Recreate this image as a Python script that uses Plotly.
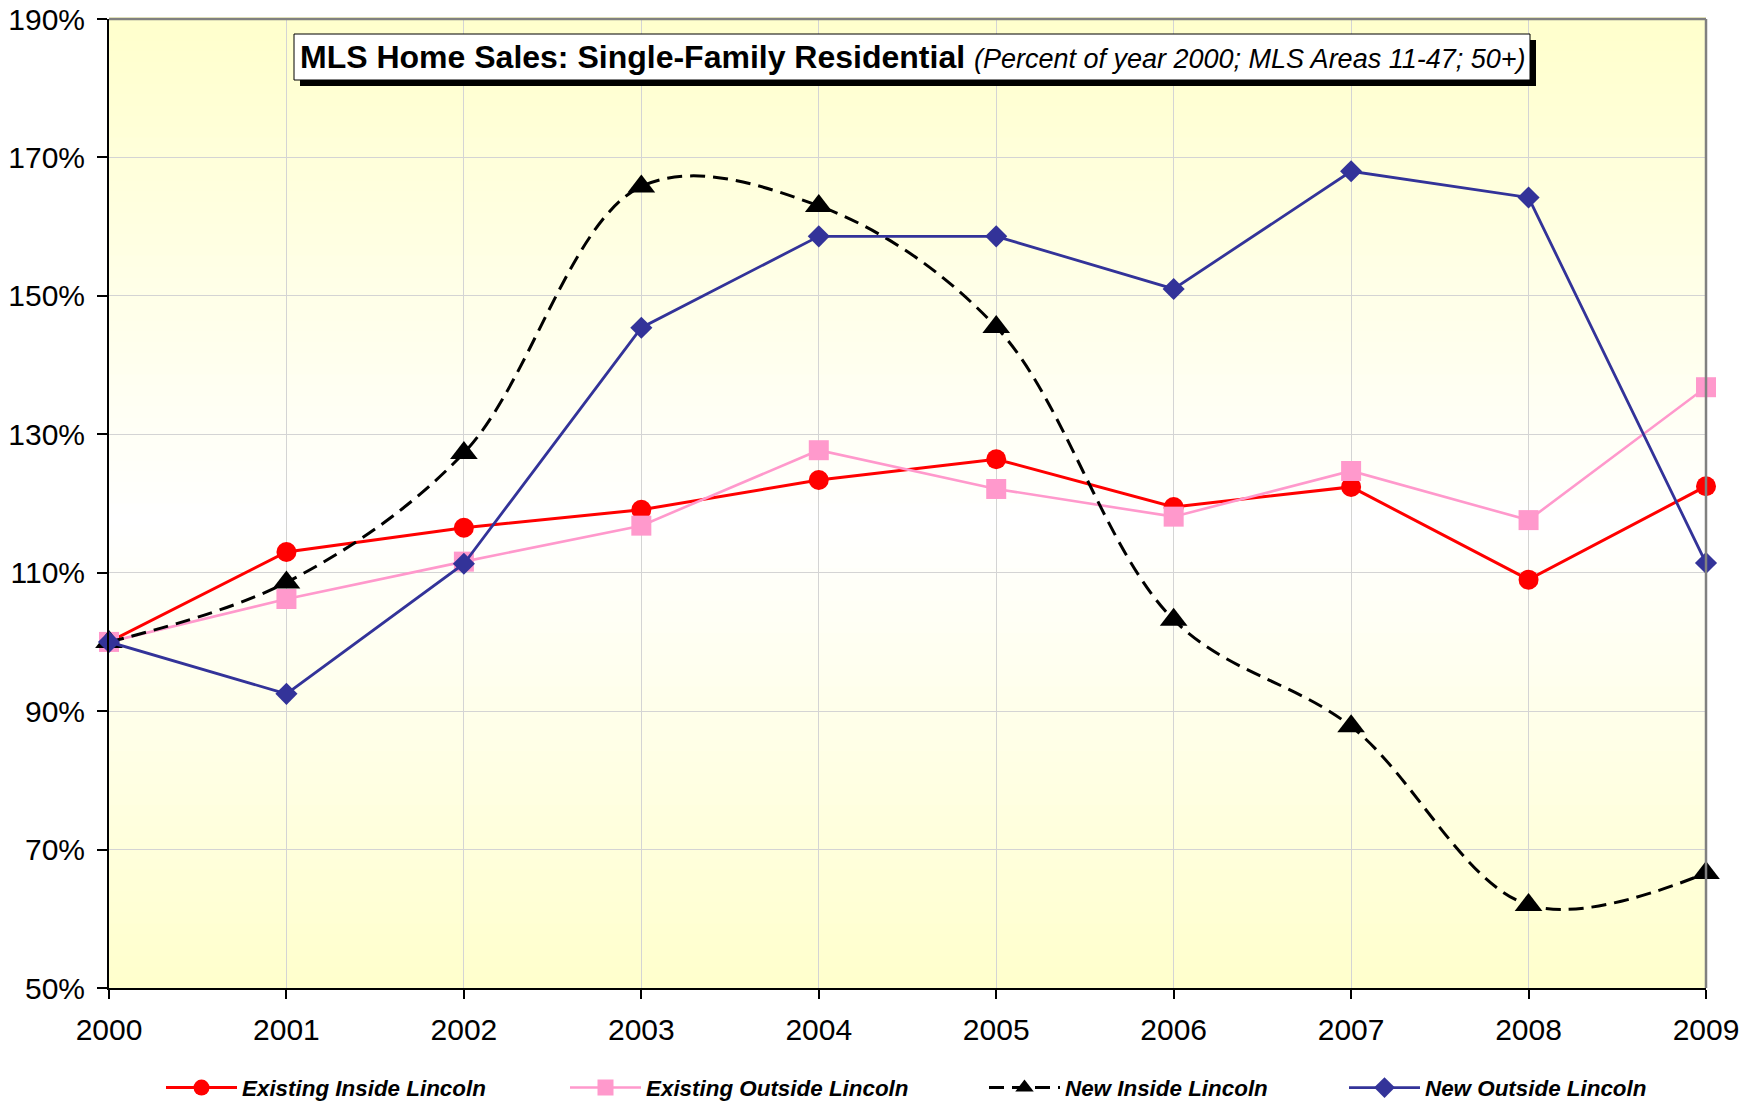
import plotly.graph_objects as go

# ---------------- data ----------------
years = [2000, 2001, 2002, 2003, 2004, 2005, 2006, 2007, 2008, 2009]
existing_inside = [100, 113.0, 116.5, 119.1, 123.4, 126.4, 119.5, 122.4, 109.0, 122.5]
existing_outside = [100, 106.2, 111.6, 116.8, 127.7, 122.1, 118.1, 124.7, 117.6, 136.8]
new_inside = [100, 108.6, 127.3, 165.8, 163.0, 145.5, 103.2, 87.8, 62.0, 66.6]
new_outside = [100, 92.5, 111.3, 145.4, 158.6, 158.6, 151.0, 168.0, 164.2, 111.4]
series_names = ["Existing Inside Lincoln", "Existing Outside Lincoln",
                "New Inside Lincoln", "New Outside Lincoln"]
y_ticks = [50, 70, 90, 110, 130, 150, 170, 190]
title_main = "MLS Home Sales: Single-Family Residential"
title_sub = "(Percent of year 2000; MLS Areas 11-47; 50+)"

# ---------------- layout geometry (pixels) ----------------
W, H = 1758, 1104
L, R, T, B = 109, 1706, 19, 988
PW, PH = R - L, B - T


def px(x):
    return (x - L) / PW


def py(y):
    return (B - y) / PH


FONT = "Arial, Liberation Sans, sans-serif"

fig = go.Figure()

fig.add_trace(go.Scatter(
    x=years, y=existing_inside, name=series_names[0], mode="lines+markers",
    line=dict(color="#FF0000", width=3),
    marker=dict(symbol="circle", size=20, color="#FF0000"),
    cliponaxis=False, legend="legend"))
fig.add_trace(go.Scatter(
    x=years, y=existing_outside, name=series_names[1], mode="lines+markers",
    line=dict(color="#FF99CC", width=2.6),
    marker=dict(symbol="square", size=20, color="#FF99CC"),
    cliponaxis=False, legend="legend2"))
fig.add_trace(go.Scatter(
    x=years, y=new_inside, name=series_names[2], mode="lines+markers",
    line=dict(color="#000000", width=3, dash="15px,8px", shape="spline", smoothing=1.0),
    marker=dict(symbol="triangle-up", size=24, color="#000000"),
    cliponaxis=False, legend="legend3"))
fig.add_trace(go.Scatter(
    x=years, y=new_outside, name=series_names[3], mode="lines+markers",
    line=dict(color="#333399", width=2.8),
    marker=dict(symbol="diamond", size=17, color="#333399"),
    cliponaxis=False, legend="legend4"))

# ---------------- background gradient ----------------
shapes = []
n = 90
top_c = (255, 255, 204)
bot_c = (255, 255, 204)
white_pos = 0.48  # paper y of whitest band
for i in range(n):
    y0 = i / n
    y1 = (i + 1) / n
    ym = (y0 + y1) / 2
    if ym >= white_pos:
        t = (ym - white_pos) / (1 - white_pos)
        c = top_c
    else:
        t = (white_pos - ym) / white_pos
        c = bot_c
    col = tuple(round(255 + (ci - 255) * t) for ci in c)
    shapes.append(dict(type="rect", xref="x domain", yref="y domain",
                       x0=0, x1=1, y0=y0, y1=y1 + 0.002, layer="below",
                       line=dict(width=0), fillcolor="rgb(%d,%d,%d)" % col))

# top and right grey borders
shapes.append(dict(type="line", xref="paper", yref="paper", x0=0, x1=1, y0=1, y1=1,
                   line=dict(color="#808080", width=2.5), layer="above"))
shapes.append(dict(type="line", xref="paper", yref="paper", x0=1, x1=1, y0=0, y1=1,
                   line=dict(color="#808080", width=2.5), layer="above"))

# title box with shadow
shapes.append(dict(type="rect", xref="paper", yref="paper",
                   x0=px(300), x1=px(1536), y0=py(86), y1=py(40),
                   fillcolor="#000000", line=dict(width=0), layer="above"))
shapes.append(dict(type="rect", xref="paper", yref="paper",
                   x0=px(294), x1=px(1530), y0=py(80), y1=py(34),
                   fillcolor="#FFFFFF", line=dict(color="#000000", width=1), layer="above"))

annotations = [dict(
    xref="paper", yref="paper", x=px(913), y=py(57), xanchor="center", yanchor="middle",
    showarrow=False,
    text="<b>%s</b> <i><span style='font-size:27px'>%s</span></i>" % (title_main, title_sub),
    font=dict(family=FONT, size=32, color="#000000"))]

legend_common = dict(orientation="h", yanchor="middle", xanchor="left",
                     y=py(1088), bgcolor="rgba(0,0,0,0)", borderwidth=0, itemwidth=71,
                     font=dict(family=FONT, size=22.4, color="#000000", weight="bold",
                               style="italic"),
                     tracegroupgap=0)
leg_starts = [166, 570, 989, 1349]

fig.update_layout(
    template="none",
    width=W, height=H,
    margin=dict(l=L, r=W - R, t=T, b=H - B, pad=0, autoexpand=False),
    paper_bgcolor="#FFFFFF", plot_bgcolor="#FFFFFF",
    font=dict(family=FONT, size=30, color="#000000"),
    shapes=shapes, annotations=annotations,
    legend=dict(legend_common, x=px(leg_starts[0] - 5)),
    legend2=dict(legend_common, x=px(leg_starts[1] - 5)),
    legend3=dict(legend_common, x=px(leg_starts[2] - 5)),
    legend4=dict(legend_common, x=px(leg_starts[3] - 5)),
    showlegend=True,
    xaxis=dict(range=[2000, 2009], tickmode="array", tickvals=years,
               ticktext=[str(y) for y in years],
               showgrid=True, gridcolor="#D4D4D4", gridwidth=1,
               showline=True, linecolor="#000000", linewidth=2,
               ticks="outside", ticklen=9, tickwidth=1.5, tickcolor="#000000",
               tickfont=dict(family=FONT, size=30, color="#000000"),
               zeroline=False, fixedrange=True, ticklabelstandoff=5, automargin=False),
    yaxis=dict(range=[50, 190], tickmode="array", tickvals=y_ticks,
               ticktext=["%d%%" % v for v in y_ticks],
               showgrid=True, gridcolor="#D4D4D4", gridwidth=1,
               showline=True, linecolor="#000000", linewidth=2,
               ticks="outside", ticklen=10, tickwidth=1.5, tickcolor="#000000",
               tickfont=dict(family=FONT, size=30, color="#000000"),
               zeroline=False, fixedrange=True, ticklabelstandoff=6, automargin=False),
)

fig.write_html("out.html", config={"displayModeBar": False},
               post_script="document.body.style.margin='0px';document.body.style.overflow='hidden';")
